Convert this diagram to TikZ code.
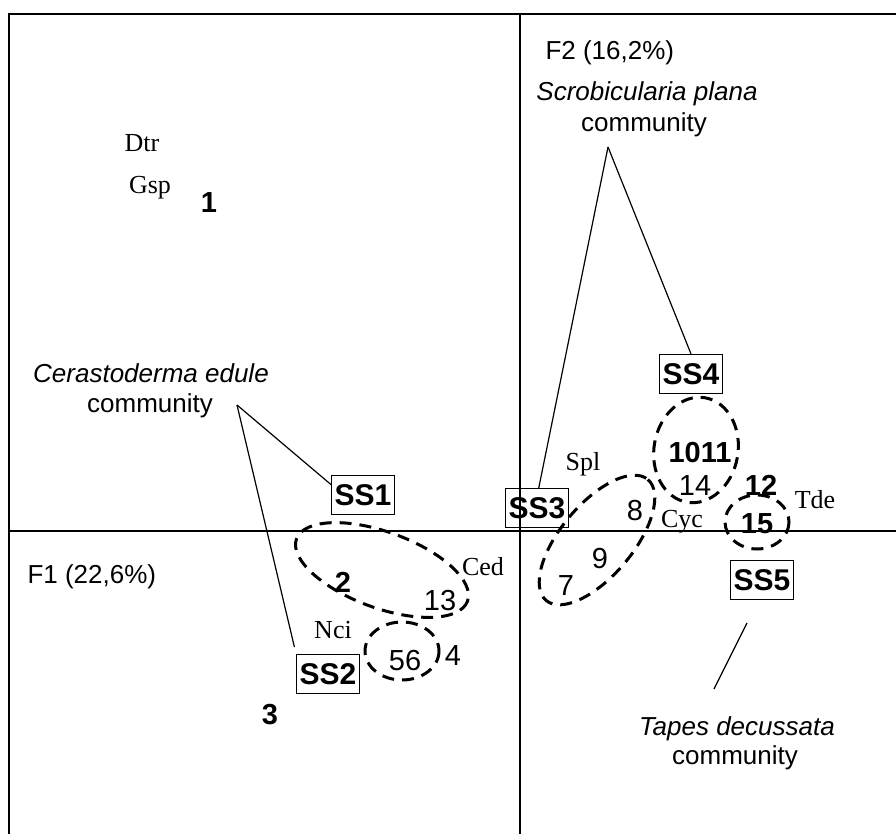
\documentclass[tikz,border=0pt]{standalone}
\usepackage{fontspec}
\setmainfont{Liberation Sans}
\newfontfamily\serifcodes{Liberation Serif}
\usetikzlibrary{positioning}

\tikzset{
  ssbox/.style={draw, line width=1.2pt, font=\fontsize{30}{30}\selectfont\bfseries, inner xsep=3pt, inner ysep=0pt, minimum height=39pt},
  commlbl/.style={font=\fontsize{26}{31}\selectfont, anchor=base},
  axislbl/.style={font=\fontsize{26}{31}\selectfont, anchor=base west},
  spcode/.style={font=\fontsize{26}{31}\serifcodes, anchor=base},
  sitenum/.style={font=\fontsize{29}{31}\selectfont, anchor=base},
  sitebold/.style={sitenum, font=\fontsize{29}{31}\selectfont\bfseries},
  leader/.style={line width=1.2pt},
  groupring/.style={line width=3pt, dash pattern=on 12pt off 8pt}
}

\begin{document}
\begin{tikzpicture}[x=1pt, y=-1pt]
    \useasboundingbox (0,0) rectangle (896,834);

    % frame and factor axes
    \draw[line width=2.6pt] (896,14) -- (9,14) -- (9,834);
    \draw[line width=1.5pt] (9,531) -- (896,531);
    \draw[line width=1.5pt] (520,14) -- (520,834);
    \node[axislbl] (f1) at (24,583) {F1 (22,6\%)};
    \node[axislbl] (f2) at (542,60) {F2 (16,2\%)};

    % species codes
    \node[spcode] (dtr) at (142,152) {Dtr};
    \node[spcode] (gsp) at (150,194) {Gsp};
    \node[spcode] (ced) at (483,575) {Ced};
    \node[spcode] (nci) at (333,638) {Nci};
    \node[spcode] (spl) at (583,470) {Spl};
    \node[spcode] (cyc) at (682,527) {Cyc};
    \node[spcode] (tde) at (815,508) {Tde};

    % stations
    \node[sitebold] (st1) at (209,213) {1};
    \node[sitebold] (st2) at (343,592) {2};
    \node[sitebold] (st3) at (270,724) {3};
    \node[sitenum] (st13) at (440,610) {13};
    \node[sitenum] (st56) at (405,670) {56};
    \node[sitenum] (st4) at (453,665) {4};
    \node[sitenum] (st7) at (566,595) {7};
    \node[sitenum] (st8) at (635,520) {8};
    \node[sitenum] (st9) at (600,568) {9};
    \node[sitebold] (st1011) at (700,462) {1011};
    \node[sitenum] (st14) at (695,495) {14};
    \node[sitebold] (st12) at (761,495) {12};
    \node[sitebold] (st15) at (757,533) {15};

    % station groups
    \draw[groupring, rotate around={-20:(382,570)}] (382,570) ellipse [x radius=91, y radius=38];
    \draw[groupring] (402,651) ellipse [x radius=37, y radius=29];
    \draw[groupring, rotate around={50:(597,540)}] (597,540) ellipse [x radius=79, y radius=36];
    \draw[groupring, rotate around={-10:(696,450)}] (696,450) ellipse [x radius=42, y radius=53];
    \draw[groupring] (757,522) ellipse [x radius=32, y radius=27];

    \node[ssbox] (ss1) at (363,495) {SS1};
    \node[ssbox] (ss2) at (328,674) {SS2};
    \node[ssbox] (ss3) at (537,508) {SS3};
    \node[ssbox] (ss4) at (691,374) {SS4};
    \node[ssbox] (ss5) at (762,580) {SS5};

    % communities
    \node[commlbl] (cername) at (151,382) {\textit{Cerastoderma edule}};
    \node[commlbl] (cercomm) at (150,412) {community};
    \node[commlbl] (scrname) at (647,101) {\textit{Scrobicularia plana}};
    \node[commlbl] (scrcomm) at (644,132) {community};
    \node[commlbl] (tapname) at (737,735) {\textit{Tapes decussata}};
    \node[commlbl] (tapcomm) at (735,764) {community};

    \coordinate (cerfork) at (237,405);
    \coordinate (scrfork) at (608,147);
    \coordinate (taptop) at (747,623);
    \coordinate (tapfoot) at (714,689);

    \draw[leader] (cerfork) -- (ss1.162);
    \draw[leader, shorten >=7pt] (cerfork) -- (ss2.north west);
    \draw[leader] (scrfork) -- (ss3.85);
    \draw[leader] (scrfork) -- (ss4.north);
    \draw[leader] (taptop) -- (tapfoot);
\end{tikzpicture}
\end{document}
